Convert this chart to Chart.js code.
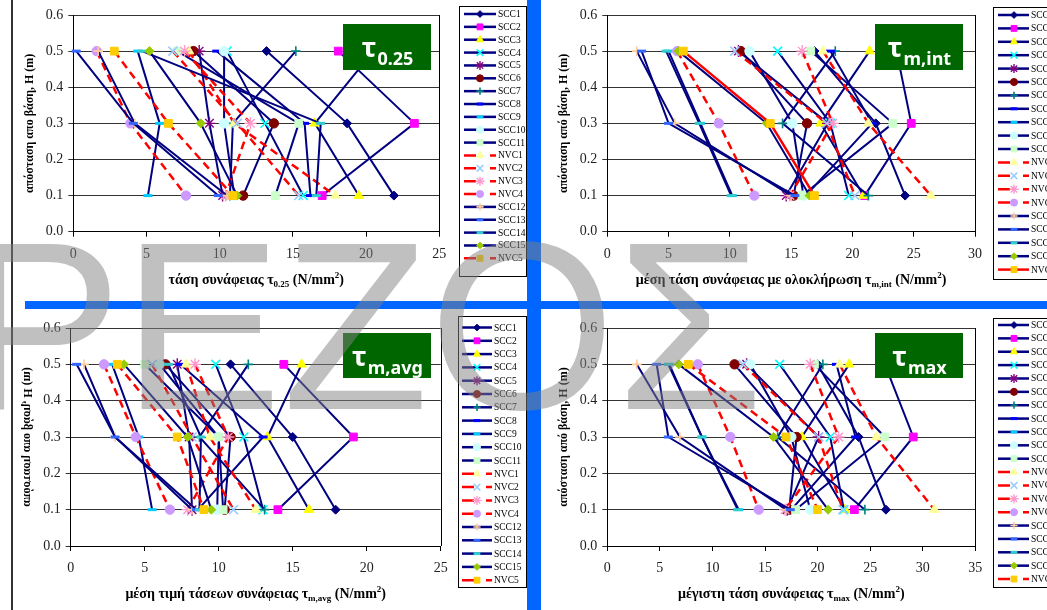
<!DOCTYPE html>
<html>
<head>
<meta charset="utf-8">
<script src="https://cdn.jsdelivr.net/npm/chart.js@4.4.0/dist/chart.umd.min.js"></script>
<style>
  html, body { margin: 0; padding: 0; background: #fff; }
  #stage { position: relative; width: 1047px; height: 610px; overflow: hidden; background: #fff; }
  #stage canvas { position: absolute; left: 0; top: 0; }
</style>
</head>
<body>
<div id="stage">
  <canvas id="c1" width="1047" height="610"></canvas>
  <canvas id="c2" width="1047" height="610"></canvas>
  <canvas id="c3" width="1047" height="610"></canvas>
  <canvas id="c4" width="1047" height="610"></canvas>
  <canvas id="overlay" width="1047" height="610"></canvas>
</div>
<script>
// ---- series and measurement levels ----
const seriesNames = ['SCC1','SCC2','SCC3','SCC4','SCC5','SCC6','SCC7','SCC8','SCC9','SCC10','SCC11',
                     'NVC1','NVC2','NVC3','NVC4','SCC12','SCC13','SCC14','SCC15','NVC5'];
const heights = [0.5, 0.3, 0.1];   // distance from base, H (m)

// bond stress tau_0.25 (N/mm2) at H = 0.5 / 0.3 / 0.1
const t025_h05 = [13.2, 18.1, 20.5, 10.5, 8.6, 8.2, 15.2, 9.8, 4.4, 10.3, 7.1, 7.9, 6.8, 7.6, 1.6, 1.7, 0.2, 4.7, 5.2, 2.8];
const t025_h03 = [18.7, 23.3, 16.5, 13.1, 9.3, 13.7, 10.9, 15.8, 5.9, 10.3, 15.4, 11.0, 11.2, 12.1, 3.9, 4.2, 4.1, 16.9, 8.7, 6.5];
const t025_h01 = [21.9, 17.0, 19.5, 15.7, 10.2, 11.6, 10.7, 16.2, 5.1, 11.0, 13.8, 17.9, 15.4, 10.4, 7.7, 10.5, 9.9, 16.6, 11.2, 10.9];

// mean bond stress by integration tau_m,int (N/mm2)
const tint_h05 = [16.9, 23.6, 21.4, 13.9, 10.7, 10.9, 18.6, 18.2, 5.0, 11.6, 16.6, 17.6, 10.4, 15.9, 5.7, 2.4, 2.8, 4.8, 5.8, 6.2];
const tint_h03 = [21.9, 24.8, 17.4, 18.2, 18.0, 16.3, 14.3, 21.6, 7.6, 15.1, 23.3, 21.3, 17.9, 18.4, 9.1, 5.5, 5.0, 7.5, 13.0, 13.3];
const tint_h01 = [24.3, 21.0, 20.9, 19.7, 14.6, 15.2, 21.3, 16.2, 10.2, 16.0, 15.9, 26.4, 20.2, 14.9, 12.0, 15.0, 15.3, 10.1, 16.5, 16.9];

// mean value of bond stresses tau_m,avg (N/mm2)
const tavg_h05 = [10.8, 14.4, 15.6, 9.8, 7.2, 6.4, 12.0, 7.4, 2.8, 6.0, 5.0, 7.8, 5.5, 8.4, 2.25, 0.9, 0.4, 6.6, 3.6, 3.15];
const tavg_h03 = [15.0, 19.1, 13.3, 11.7, 8.0, 10.8, 8.7, 13.0, 4.6, 10.0, 10.0, 9.4, 8.2, 10.65, 4.4, 3.0, 3.0, 8.8, 7.9, 7.2];
const tavg_h01 = [17.9, 14.0, 16.1, 13.0, 8.2, 10.4, 13.1, 8.6, 5.5, 9.9, 10.3, 12.5, 11.0, 7.9, 6.7, 8.2, 8.5, 8.7, 9.5, 9.0];

// maximum bond stress tau_max (N/mm2)
const tmax_h05 = [20.0, 26.4, 23.0, 16.4, 13.25, 12.1, 20.5, 21.8, 5.8, 13.6, 19.7, 22.1, 12.9, 19.3, 8.6, 2.8, 4.7, 5.9, 6.8, 7.7];
const tmax_h03 = [23.9, 29.1, 18.5, 21.2, 20.1, 18.0, 16.2, 23.6, 9.0, 17.5, 26.4, 25.6, 20.1, 22.0, 11.7, 6.9, 5.8, 9.0, 15.8, 17.0];
const tmax_h01 = [26.5, 23.5, 22.6, 22.5, 17.1, 17.3, 24.5, 17.5, 12.5, 19.3, 17.9, 31.1, 22.4, 16.9, 14.4, 17.0, 17.4, 12.4, 21.0, 20.0];

// ---- marker appearance per series ----
const markerStyle = ['rectRot','rect','triangle','crossRot','star','circle','cross','line','line','circle','rect',
                     'triangle','crossRot','star','circle','cross','line','line','rectRot','rect'];
const markerColor = ['#000080','#ff00ff','#ffff00','#00ffff','#800080','#800000','#008080','#0000ff','#00ccff','#ccffff','#ccffcc',
                     '#ffff99','#99ccff','#ff99cc','#cc99ff','#ffcc99','#3366ff','#33cccc','#99cc00','#ffcc00'];
const markerRadius = { rectRot: 4.5, rect: 5.5, triangle: 5.5, crossRot: 6.3, star: 6, circle: 4.7, cross: 4.8, line: 4.5 };
const markerBorder = { rectRot: 1, rect: 1, triangle: 1, crossRot: 1.6, star: 1.4, circle: 1, cross: 1.6, line: 3 };

const SERIF = '"Liberation Serif", "Times New Roman", serif';
const SANS = '"Noto Sans", "Open Sans", sans-serif';

function isNVC(name) { return name.indexOf('NVC') === 0; }

function drawRich(ctx, segs, cx, cy, px, rotateMode) {
  const subPx = Math.round(px * 0.62);
  const fontFor = k => 'bold ' + (k === 'n' ? px : subPx) + 'px ' + SERIF;
  let total = 0;
  const widths = segs.map(s => { ctx.font = fontFor(s[1]); const w = ctx.measureText(s[0]).width; total += w; return w; });
  ctx.save();
  ctx.translate(cx, cy);
  if (rotateMode === 'up') ctx.rotate(-Math.PI / 2);
  if (rotateMode === 'upMirror') { ctx.rotate(-Math.PI / 2); ctx.scale(1, -1); }
  ctx.fillStyle = '#000';
  ctx.textBaseline = 'alphabetic';
  ctx.textAlign = 'left';
  let x = -total / 2;
  const base = px * 0.35;
  segs.forEach((s, i) => {
    ctx.font = fontFor(s[1]);
    let dy = 0;
    if (s[1] === 'sub') dy = px * 0.25;
    if (s[1] === 'sup') dy = -px * 0.45;
    ctx.fillText(s[0], x, base + dy);
    x += widths[i];
  });
  ctx.restore();
}

function drawMarker(ctx, i, x, y, scale) {
  const st = markerStyle[i];
  ctx.save();
  ctx.fillStyle = markerColor[i];
  ctx.strokeStyle = markerColor[i];
  ctx.lineWidth = markerBorder[st];
  Chart.helpers.drawPoint(ctx, { pointStyle: st, radius: markerRadius[st] * scale, borderWidth: markerBorder[st], rotation: 0 }, x, y);
  ctx.restore();
}

function drawLegend(ctx, lg, solidNVC5) {
  ctx.save();
  ctx.fillStyle = '#fff';
  ctx.fillRect(lg.x, lg.y, lg.w, lg.h);
  ctx.strokeStyle = '#000';
  ctx.lineWidth = 1;
  ctx.strokeRect(lg.x + 0.5, lg.y + 0.5, lg.w, lg.h);
  seriesNames.forEach((name, i) => {
    const y = lg.y0 + i * lg.step;
    const nvc = isNVC(name);
    ctx.lineWidth = 2.5;
    if (nvc) {
      ctx.strokeStyle = '#ff0000';
      ctx.beginPath();
      if (name === 'NVC5' && solidNVC5) {
        ctx.moveTo(lg.lx0, y); ctx.lineTo(lg.lx1, y);
      } else {
        ctx.moveTo(lg.lx0, y); ctx.lineTo(lg.lx0 + 12, y);
        ctx.moveTo(lg.lx1 - 6, y); ctx.lineTo(lg.lx1, y);
      }
      ctx.stroke();
    } else {
      ctx.strokeStyle = '#000080';
      ctx.beginPath(); ctx.moveTo(lg.lx0, y); ctx.lineTo(lg.lx1, y); ctx.stroke();
    }
    drawMarker(ctx, i, lg.mx, y, 0.75);
    ctx.fillStyle = '#000';
    ctx.font = '9.5px ' + SERIF;
    ctx.textBaseline = 'middle';
    ctx.textAlign = 'left';
    ctx.fillText(name, lg.tx, y + 0.5);
  });
  ctx.restore();
}

function drawBadge(ctx, b) {
  ctx.save();
  ctx.fillStyle = '#006600';
  ctx.fillRect(b.x, b.y, b.w, b.h);
  ctx.fillStyle = '#fff';
  ctx.textBaseline = 'alphabetic';
  ctx.textAlign = 'left';
  ctx.font = 'bold 27px ' + SANS;
  const w1 = ctx.measureText('τ').width;
  ctx.font = 'bold 18px ' + SANS;
  const w2 = ctx.measureText(b.sub).width;
  const x0 = b.x + b.w / 2 - (w1 + w2) / 2;
  ctx.font = 'bold 27px ' + SANS;
  ctx.fillText('τ', x0, b.y + 33);
  ctx.font = 'bold 18px ' + SANS;
  ctx.fillText(b.sub, x0 + w1 + 1, b.y + 41);
  ctx.restore();
}

const panels = [
  { canvas: 'c1', xMax: 25, plot: { l: 73.3, r: 439.3, t: 15, b: 231.7 },
    levels: [t025_h05, t025_h03, t025_h01],
    xTitle: [['τάση συνάφειας τ','n'],['0.25','sub'],[' (N/mm','n'],['2','sup'],[')','n']], xTitleY: 279,
    yTitle: 'απόσταση απο βάση, Η (m)', yTitleX: 29, yMode: 'up',
    badge: { x: 343, y: 24, w: 88, h: 46, sub: '0.25' },
    legend: { x: 459, y: 6, w: 67, h: 270, y0: 14, step: 12.86, lx0: 464, lx1: 496, mx: 480, tx: 498 },
    solidNVC5: false },
  { canvas: 'c2', xMax: 30, plot: { l: 607.3, r: 975, t: 15, b: 231.7 },
    levels: [tint_h05, tint_h03, tint_h01],
    xTitle: [['μέση τάση συνάφειας με ολοκλήρωση τ','n'],['m,int','sub'],[' (N/mm','n'],['2','sup'],[')','n']], xTitleY: 279,
    yTitle: 'απόσταση από βάση, Η (m)', yTitleX: 563, yMode: 'up',
    badge: { x: 875, y: 24, w: 88, h: 46, sub: 'm,int' },
    legend: { x: 993, y: 7, w: 80, h: 272, y0: 15, step: 13.4, lx0: 998, lx1: 1029, mx: 1014, tx: 1031 },
    solidNVC5: true },
  { canvas: 'c3', xMax: 25, plot: { l: 70.7, r: 440.7, t: 328, b: 546 },
    levels: [tavg_h05, tavg_h03, tavg_h01],
    xTitle: [['μέση τιμή τάσεων συνάφειας τ','n'],['m,avg','sub'],[' (N/mm','n'],['2','sup'],[')','n']], xTitleY: 593,
    yTitle: 'απόσταση απο βάση, Η (m)', yTitleX: 28, yMode: 'upMirror',
    badge: { x: 343, y: 333, w: 88, h: 45, sub: 'm,avg' },
    legend: { x: 458, y: 316, w: 68, h: 271, y0: 327.5, step: 13.3, lx0: 462, lx1: 492, mx: 477, tx: 494 },
    solidNVC5: false },
  { canvas: 'c4', xMax: 35, plot: { l: 607.3, r: 975.3, t: 328, b: 546 },
    levels: [tmax_h05, tmax_h03, tmax_h01],
    xTitle: [['μέγιστη τάση συνάφειας τ','n'],['max','sub'],[' (N/mm','n'],['2','sup'],[')','n']], xTitleY: 593,
    yTitle: 'απόσταση από βάση, Η (m)', yTitleX: 563, yMode: 'up',
    badge: { x: 875, y: 333, w: 88, h: 45, sub: 'max' },
    legend: { x: 993, y: 318, w: 80, h: 269, y0: 325, step: 13.37, lx0: 998, lx1: 1029, mx: 1014, tx: 1031 },
    solidNVC5: false }
];

Chart.defaults.font.family = SERIF;

const Y_AXIS_W = 45, X_AXIS_H = 36;

panels.forEach(p => {
  const datasets = seriesNames.map((name, i) => {
    const nvc = isNVC(name);
    const st = markerStyle[i];
    return {
      label: name,
      data: heights.map((h, k) => ({ x: p.levels[k][i], y: h })),
      showLine: true,
      tension: 0,
      borderColor: nvc ? '#ff0000' : '#000080',
      borderWidth: nvc ? 2.5 : 2,
      borderDash: (nvc && !(name === 'NVC5' && p.solidNVC5)) ? [8, 5] : [],
      pointStyle: st,
      pointRadius: markerRadius[st],
      pointBackgroundColor: markerColor[i],
      pointBorderColor: markerColor[i],
      pointBorderWidth: markerBorder[st],
      order: 100 - i,
      clip: false
    };
  });

  const decor = {
    id: 'decor',
    afterDraw(chart) {
      const ctx = chart.ctx;
      const a = chart.chartArea;
      ctx.save();
      ctx.strokeStyle = '#000';
      ctx.lineWidth = 1;
      ctx.beginPath();
      ctx.moveTo(Math.round(a.right) + 0.5, a.top);
      ctx.lineTo(Math.round(a.right) + 0.5, a.bottom);
      ctx.stroke();
      ctx.restore();
      drawBadge(ctx, p.badge);
      drawRich(ctx, p.xTitle, (a.left + a.right) / 2, p.xTitleY, 14, null);
      drawRich(ctx, [[p.yTitle, 'n']], p.yTitleX, (a.top + a.bottom) / 2, 12, p.yMode);
      drawLegend(ctx, p.legend, p.solidNVC5);
    }
  };

  new Chart(document.getElementById(p.canvas), {
    type: 'scatter',
    data: { datasets },
    options: {
      responsive: false,
      animation: false,
      devicePixelRatio: 1,
      layout: { padding: {
        left: p.plot.l - Y_AXIS_W,
        right: 1047 - p.plot.r,
        top: p.plot.t,
        bottom: 610 - p.plot.b - X_AXIS_H
      } },
      plugins: { legend: { display: false }, tooltip: { enabled: false } },
      scales: {
        x: {
          type: 'linear', min: 0, max: p.xMax,
          afterFit(s) { s.height = X_AXIS_H; },
          ticks: { stepSize: 5, color: '#222', font: { family: SERIF, size: 14 }, padding: 9, maxRotation: 0 },
          grid: { drawOnChartArea: false, drawTicks: true, tickLength: 5, color: '#000', lineWidth: 1 },
          border: { color: '#000', width: 1 }
        },
        y: {
          type: 'linear', min: 0, max: 0.6,
          afterFit(s) { s.width = Y_AXIS_W; },
          ticks: { stepSize: 0.1, color: '#222', font: { family: SERIF, size: 14 }, padding: 5,
                   callback: v => Number(v).toFixed(1) },
          grid: { color: '#333', lineWidth: 1, tickLength: 5, drawTicks: true },
          border: { color: '#000', width: 1 }
        }
      }
    },
    plugins: [decor]
  });
});

// ---- page frame: rule lines, blue separators and the PEZOΣ mark ----
(function () {
  const ctx = document.getElementById('overlay').getContext('2d');
  ctx.fillStyle = '#333';
  ctx.fillRect(11, 0, 2, 610);
  ctx.fillStyle = '#0066ff';
  ctx.fillRect(527, 0, 14, 610);
  ctx.fillRect(25, 301, 1022, 8);
  ctx.fillStyle = 'rgba(130,130,130,0.5)';
  ctx.font = '240px "Liberation Sans", Arial, sans-serif';
  ctx.textBaseline = 'alphabetic';
  ctx.textAlign = 'left';
  ctx.fillText('PEZOΣ', -38, 409);
})();
</script>
</body>
</html>
